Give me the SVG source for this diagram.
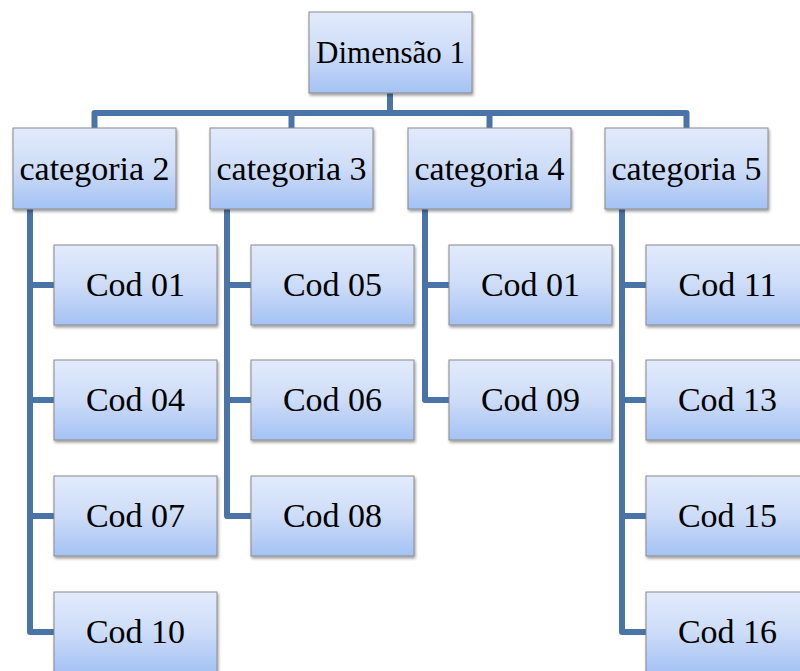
<svg xmlns="http://www.w3.org/2000/svg" width="800" height="671" viewBox="0 0 800 671" font-family="Liberation Serif, Times New Roman, serif">
<defs>
<linearGradient id="g" x1="0" y1="0" x2="0" y2="1">
<stop offset="0" stop-color="#e2ebfc"/>
<stop offset="0.5" stop-color="#cddcf8"/>
<stop offset="1" stop-color="#a4c2f4"/>
</linearGradient>
<filter id="sh" x="-10%" y="-10%" width="125%" height="130%">
<feGaussianBlur in="SourceAlpha" stdDeviation="1.5"/>
<feOffset dx="1" dy="2" result="b"/>
<feComponentTransfer><feFuncA type="linear" slope="0.4"/></feComponentTransfer>
<feMerge><feMergeNode/><feMergeNode in="SourceGraphic"/></feMerge>
</filter>
</defs>
<style>
.box{fill:url(#g);stroke:#8a8a8a;stroke-width:1;filter:url(#sh)}
.t{font-size:34px;fill:#000;text-anchor:middle}
.t1{font-size:31px}
.c{fill:none;stroke:#4a74a8;stroke-width:6;stroke-linejoin:round}
</style>
<g id="connectors">
<path class="c" d="M390 93 V113 M94.5 128 V113 H686.5 V128 M291.5 113 V128 M489.5 113 V128"/>
<path class="c" d="M30 209 V632 H54 M30 285 H54 M30 400 H54 M30 516 H54"/>
<path class="c" d="M227 209 V516 H251 M227 285 H251 M227 400 H251"/>
<path class="c" d="M425 209 V400 H449 M425 285 H449"/>
<path class="c" d="M622 209 V632 H646 M622 285 H646 M622 400 H646 M622 516 H646"/>
</g>
<g id="dim1"><rect class="box" x="309" y="12" width="163" height="81"/><text class="t t1" x="390.5" y="63" font-family="Liberation Serif">Dimensão 1</text></g>
<g id="cat2"><rect class="box" x="13" y="128" width="163" height="81"/><text class="t" x="94.5" y="180" font-family="Liberation Serif">categoria 2</text></g>
<g id="cat3"><rect class="box" x="210" y="128" width="163" height="81"/><text class="t" x="291.5" y="180" font-family="Liberation Serif">categoria 3</text></g>
<g id="cat4"><rect class="box" x="408" y="128" width="163" height="81"/><text class="t" x="489.5" y="180" font-family="Liberation Serif">categoria 4</text></g>
<g id="cat5"><rect class="box" x="605" y="128" width="163" height="81"/><text class="t" x="686.5" y="180" font-family="Liberation Serif">categoria 5</text></g>
<g id="c2a"><rect class="box" x="54" y="245" width="163" height="80"/><text class="t" x="135.5" y="296" font-family="Liberation Serif">Cod 01</text></g>
<g id="c2b"><rect class="box" x="54" y="360" width="163" height="80"/><text class="t" x="135.5" y="411" font-family="Liberation Serif">Cod 04</text></g>
<g id="c2c"><rect class="box" x="54" y="476" width="163" height="80"/><text class="t" x="135.5" y="527" font-family="Liberation Serif">Cod 07</text></g>
<g id="c2d"><rect class="box" x="54" y="592" width="163" height="80"/><text class="t" x="135.5" y="643" font-family="Liberation Serif">Cod 10</text></g>
<g id="c3a"><rect class="box" x="251" y="245" width="163" height="80"/><text class="t" x="332.5" y="296" font-family="Liberation Serif">Cod 05</text></g>
<g id="c3b"><rect class="box" x="251" y="360" width="163" height="80"/><text class="t" x="332.5" y="411" font-family="Liberation Serif">Cod 06</text></g>
<g id="c3c"><rect class="box" x="251" y="476" width="163" height="80"/><text class="t" x="332.5" y="527" font-family="Liberation Serif">Cod 08</text></g>
<g id="c4a"><rect class="box" x="449" y="245" width="163" height="80"/><text class="t" x="530.5" y="296" font-family="Liberation Serif">Cod 01</text></g>
<g id="c4b"><rect class="box" x="449" y="360" width="163" height="80"/><text class="t" x="530.5" y="411" font-family="Liberation Serif">Cod 09</text></g>
<g id="c5a"><rect class="box" x="646" y="245" width="163" height="80"/><text class="t" x="727.5" y="296" font-family="Liberation Serif">Cod 11</text></g>
<g id="c5b"><rect class="box" x="646" y="360" width="163" height="80"/><text class="t" x="727.5" y="411" font-family="Liberation Serif">Cod 13</text></g>
<g id="c5c"><rect class="box" x="646" y="476" width="163" height="80"/><text class="t" x="727.5" y="527" font-family="Liberation Serif">Cod 15</text></g>
<g id="c5d"><rect class="box" x="646" y="592" width="163" height="80"/><text class="t" x="727.5" y="643" font-family="Liberation Serif">Cod 16</text></g>
</svg>
